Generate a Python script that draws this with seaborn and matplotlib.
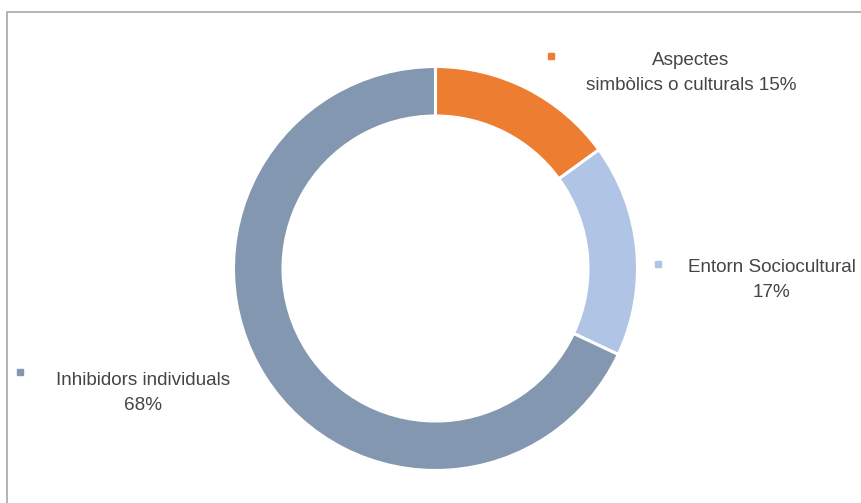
import matplotlib
matplotlib.use("Agg")
import matplotlib.pyplot as plt
import seaborn as sns
from matplotlib.lines import Line2D

categories = ["Aspectes\nsimbòlics o culturals", "Entorn Sociocultural", "Inhibidors individuals"]
values = [15, 17, 68]
label_texts = ["Aspectes\nsimbòlics o culturals 15%", "Entorn Sociocultural\n17%", "Inhibidors individuals\n68%"]
colors = ["#ED7D31", "#B0C4E6", "#8497B0"]

sns.set_theme(style="white")
plt.rcParams['font.family'] = ['Liberation Sans', 'DejaVu Sans']

W, H = 862, 503
fig = plt.figure(figsize=(W / 100, H / 100), dpi=100)

def fx(x):
    return x / W

def fy(y):
    return 1 - y / H

cx, cy, R = 435.5, 268.5, 202
ax = fig.add_axes([fx(cx - R), fy(cy + R), 2 * R / W, 2 * R / H])
ax.pie(values, colors=colors, startangle=90, counterclock=False, radius=1,
       wedgeprops=dict(width=0.245, edgecolor="white", linewidth=2.2))
ax.set_xlim(-1, 1)
ax.set_ylim(-1, 1)
ax.set_aspect("auto")
ax.axis("off")

# border lines
fig.add_artist(Line2D([fx(7.5), fx(870)], [fy(12), fy(12)], color="#b3b3b3", lw=1.4, transform=fig.transFigure))
fig.add_artist(Line2D([fx(7.5), fx(7.5)], [fy(12), fy(510)], color="#b3b3b3", lw=1.4, transform=fig.transFigure))

# labels with square markers
marker_pos = [(551, 56), (658, 264), (20, 372)]
text_pos = [(691, 73), (772, 280), (143, 393)]
for (mx, my), (tx, ty), lab, col in zip(marker_pos, text_pos, label_texts, colors):
    fig.add_artist(Line2D([fx(mx)], [fy(my)], marker="s", markersize=5, color=col,
                          linestyle="none", transform=fig.transFigure))
    fig.text(fx(tx), fy(ty), lab, ha="center", va="center", fontsize=13.6,
             color="#454545", linespacing=1.62)

fig.savefig("out.png", dpi=100, facecolor="white")
